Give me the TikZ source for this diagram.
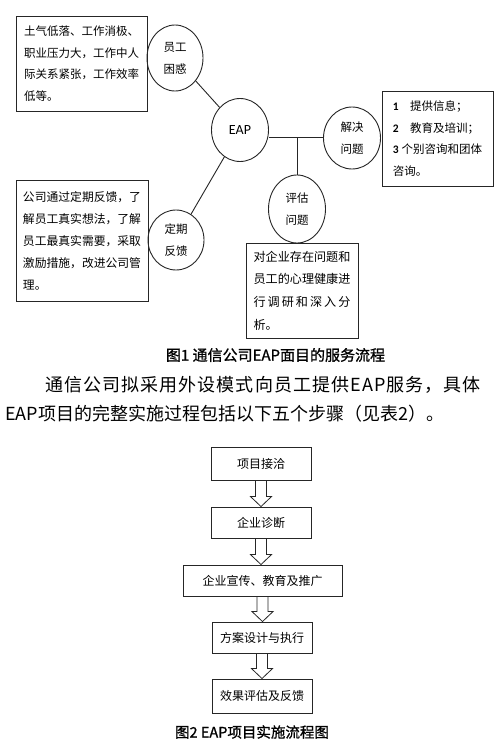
\documentclass[tikz,border=0pt]{standalone}
\usepackage{fontspec}
\setmainfont{Noto Sans CJK SC}
\newfontfamily\lat{Carlito}
\usetikzlibrary{shapes.geometric,calc}
\newcommand\hollowarr[2]{%
  \coordinate (t#1#2) at (#1.south |- #2.north);
  \draw[harrow] ($(#1.south)+(-5.5,0)$) -- ($(t#1#2)+(-5.5,-10)$) -- ($(t#1#2)+(-10.5,-10)$)
    -- (t#1#2) -- ($(t#1#2)+(10.5,-10)$) -- ($(t#1#2)+(5.5,-10)$) -- ($(#1.south)+(5.5,0)$);}
\begin{document}
\begin{tikzpicture}[x=1pt,y=-1pt,
  tbox/.style={draw=black!85, line width=0.9pt, inner sep=0pt, align=left, font=\fontsize{11.5}{21.7}\selectfont},
  oval/.style={draw=black!85, line width=0.9pt, ellipse, inner sep=0pt, align=center, font=\fontsize{11.5}{22}\selectfont},
  conn/.style={draw=black!85, line width=0.9pt},
  fbox/.style={draw=black!85, line width=0.9pt, inner sep=0pt, font=\fontsize{12}{14}\selectfont},
  harrow/.style={draw=black!85, line width=0.8pt, line join=miter},
  figcap/.style={font=\fontsize{15}{17}\selectfont\addfontfeature{FakeBold=1}, inner sep=0pt},
  para/.style={font=\fontsize{18}{21}\selectfont, inner sep=0pt, anchor=west}]
\useasboundingbox[fill=white] (0,0) rectangle (500,749);

% figure 1
\node[tbox, minimum width=131pt, minimum height=95pt] (b1) at (81.5,63.5)
  {土气低落、工作消极、\\职业压力大，工作中人\\际关系紧张，工作效率\\低等。};
\node[tbox, minimum width=132pt, minimum height=121pt, font=\fontsize{11.8}{22}\selectfont] (b2) at (82,240.5)
  {公司通过定期反馈，了\\解员工真实想法，了解\\员工最真实需要，采取\\激励措施，改进公司管\\理。};
\node[tbox, minimum width=111pt, minimum height=95pt] (b3) at (437.5,138.5)
  {{\lat\bfseries 1}　提供信息；\\{\lat\bfseries 2}　教育及培训；\\{\lat\bfseries 3}\hspace{3pt}个别咨询和团体\\咨询。};
\node[tbox, minimum width=112pt, minimum height=95pt, font=\fontsize{12.1}{22.7}\selectfont] (b4) at (302,290.5)
  {对企业存在问题和\\员工的心理健康进\\\makebox[8em][s]{行\hfil 调\hfil 研\hfil 和\hfil 深\hfil 入\hfil 分}\\析。};

\node[oval, minimum width=56pt, minimum height=66pt] (e1) at (175,58) {员工\\困惑};
\node[oval, minimum width=57pt, minimum height=63pt, font=\lat\fontsize{14}{16}\selectfont] (eap) at (240,130) {EAP};
\node[oval, minimum width=57pt, minimum height=62pt] (e2) at (352,138) {解决\\问题};
\node[oval, minimum width=57pt, minimum height=68pt] (e3) at (297,209) {评估\\问题};
\node[oval, minimum width=56pt, minimum height=60pt] (e4) at (176,240) {定期\\反馈};

\coordinate (j) at (297,137);
\draw[conn] (e1) -- (eap);
\draw[conn] (eap) -- (e4);
\draw[conn] (eap.east |- j) -- (e2.west |- j);
\draw[conn] (j) -- (e3.north);

\node[figcap] (c1) at (275.5,355) {图1 通信公司EAP面目的服务流程};
\node[para] (p1) at (45,385) {\addfontfeature{LetterSpace=6}通信公司拟采用外设模式向员工提供EAP服务，具体};
\node[para] (p2) at (5,414) {EAP项目的完整实施过程包括以下五个步骤（见表2）。};

% figure 2
\node[fbox, minimum width=100pt, minimum height=33pt] (f1) at (261,463.5) {项目接洽};
\node[fbox, minimum width=100pt, minimum height=31pt] (f2) at (261,522.5) {企业诊断};
\node[fbox, minimum width=159pt, minimum height=31pt] (f3) at (262.5,580.5) {企业宣传、教育及推广};
\node[fbox, minimum width=100pt, minimum height=31pt] (f4) at (262,637.5) {方案设计与执行};
\node[fbox, minimum width=100pt, minimum height=34pt] (f5) at (262,696) {效果评估及反馈};
\hollowarr{f1}{f2}
\hollowarr{f2}{f3}
\hollowarr{f3}{f4}
\hollowarr{f4}{f5}

\node[figcap, font=\fontsize{14.5}{17}\selectfont\addfontfeature{FakeBold=1}] (c2) at (252,732) {图2 EAP项目实施流程图};
\end{tikzpicture}
\end{document}
